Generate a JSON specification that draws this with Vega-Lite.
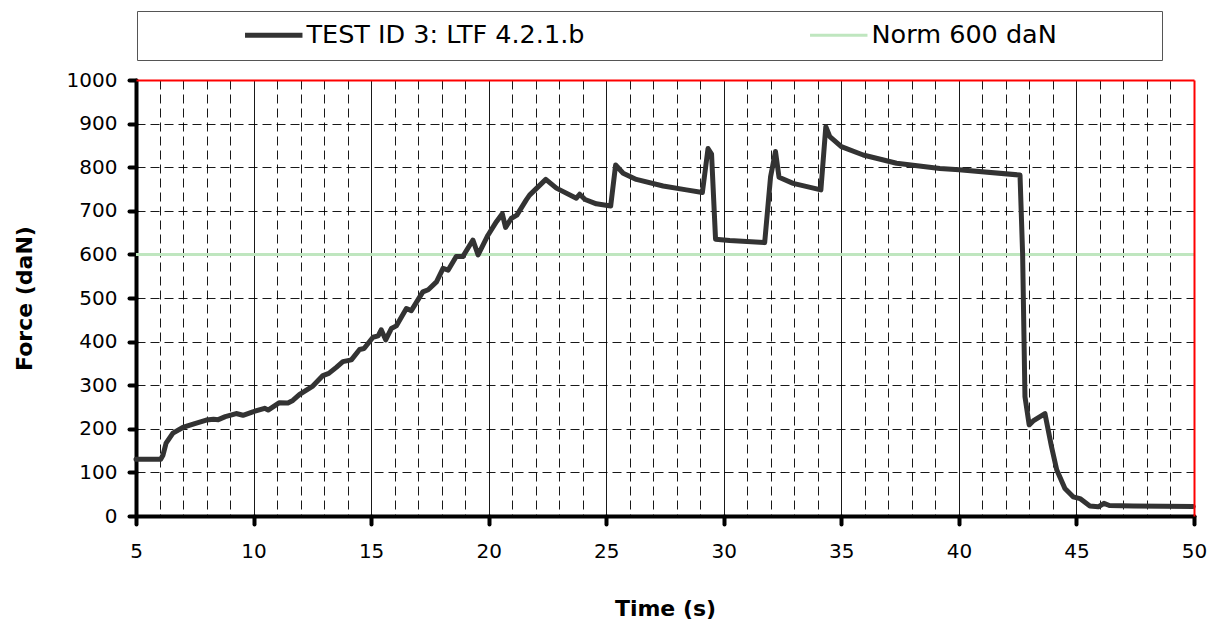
{
  "$schema": "https://vega.github.io/schema/vega-lite/v6.json",
  "width": 1058,
  "height": 436,
  "autosize": {"type": "none"},
  "padding": {"left": 136, "top": 80, "right": 18, "bottom": 103},
  "background": "#ffffff",
  "config": {"view": {"stroke": null}, "font": "DejaVu Sans"},
  "resolve": {
    "scale": {"x": "shared", "y": "shared", "color": "shared"},
    "axis": {"x": "independent", "y": "independent"}
  },
  "layer": [
    {
      "data": {"values": [
        {"t": 5, "F": 600, "series": "Norm 600 daN"},
        {"t": 50, "F": 600, "series": "Norm 600 daN"}
      ]},
      "mark": {"type": "line", "strokeWidth": 3},
      "encoding": {
        "x": {"field": "t", "type": "quantitative",
          "scale": {"domain": [5, 50], "nice": false, "zero": false},
          "axis": {"orient": "top", "domainColor": "#ff0000", "domainWidth": 2, "ticks": false, "labels": false, "grid": false, "title": null, "zindex": 1}},
        "y": {"field": "F", "type": "quantitative",
          "scale": {"domain": [0, 1000], "nice": false},
          "axis": {"orient": "right", "domainColor": "#ff0000", "domainWidth": 2, "ticks": false, "labels": false, "grid": false, "title": null, "zindex": 1}},
        "color": {"field": "series", "type": "nominal",
          "scale": {"domain": ["TEST ID 3: LTF 4.2.1.b", "Norm 600 daN"], "range": ["#333333", "#bfe6bf"]},
          "legend": {
            "orient": "none", "legendX": 1, "legendY": -69,
            "direction": "horizontal", "columns": 2, "title": null,
            "symbolType": "stroke", "symbolSize": 3300, "symbolStrokeWidth": 5,
            "symbolOffset": 113, "labelOffset": 20,
            "labelFont": "DejaVu Sans", "labelFontSize": 25.5, "labelColor": "#000000", "labelLimit": 2000,
            "columnPadding": 128, "padding": 11,
            "fillColor": "#ffffff", "strokeColor": "#555555",
            "labelExpr": "datum.value === 'Norm 600 daN' ? datum.label + '\u2800\u2800\u2800\u2800\u2800' : datum.label",
            "encode": {"symbols": {"update": {"strokeWidth": {"signal": "datum.value === 'Norm 600 daN' ? 3 : 5"}}}}
          }}
      }
    },
    {
      "data": {"values": [
        {"t": 5.0, "F": 130, "series": "TEST ID 3: LTF 4.2.1.b"},
        {"t": 6.05, "F": 130, "series": "TEST ID 3: LTF 4.2.1.b"},
        {"t": 6.15, "F": 140, "series": "TEST ID 3: LTF 4.2.1.b"},
        {"t": 6.28, "F": 167, "series": "TEST ID 3: LTF 4.2.1.b"},
        {"t": 6.57, "F": 190, "series": "TEST ID 3: LTF 4.2.1.b"},
        {"t": 6.99, "F": 203, "series": "TEST ID 3: LTF 4.2.1.b"},
        {"t": 7.5, "F": 212, "series": "TEST ID 3: LTF 4.2.1.b"},
        {"t": 7.99, "F": 220, "series": "TEST ID 3: LTF 4.2.1.b"},
        {"t": 8.3, "F": 222, "series": "TEST ID 3: LTF 4.2.1.b"},
        {"t": 8.5, "F": 221, "series": "TEST ID 3: LTF 4.2.1.b"},
        {"t": 8.8, "F": 228, "series": "TEST ID 3: LTF 4.2.1.b"},
        {"t": 9.26, "F": 235, "series": "TEST ID 3: LTF 4.2.1.b"},
        {"t": 9.55, "F": 231, "series": "TEST ID 3: LTF 4.2.1.b"},
        {"t": 9.97, "F": 239, "series": "TEST ID 3: LTF 4.2.1.b"},
        {"t": 10.47, "F": 247, "series": "TEST ID 3: LTF 4.2.1.b"},
        {"t": 10.62, "F": 243, "series": "TEST ID 3: LTF 4.2.1.b"},
        {"t": 11.1, "F": 260, "series": "TEST ID 3: LTF 4.2.1.b"},
        {"t": 11.46, "F": 259, "series": "TEST ID 3: LTF 4.2.1.b"},
        {"t": 11.67, "F": 265, "series": "TEST ID 3: LTF 4.2.1.b"},
        {"t": 11.96, "F": 279, "series": "TEST ID 3: LTF 4.2.1.b"},
        {"t": 12.52, "F": 298, "series": "TEST ID 3: LTF 4.2.1.b"},
        {"t": 12.95, "F": 322, "series": "TEST ID 3: LTF 4.2.1.b"},
        {"t": 13.2, "F": 327, "series": "TEST ID 3: LTF 4.2.1.b"},
        {"t": 13.52, "F": 341, "series": "TEST ID 3: LTF 4.2.1.b"},
        {"t": 13.8, "F": 354, "series": "TEST ID 3: LTF 4.2.1.b"},
        {"t": 14.16, "F": 358, "series": "TEST ID 3: LTF 4.2.1.b"},
        {"t": 14.51, "F": 382, "series": "TEST ID 3: LTF 4.2.1.b"},
        {"t": 14.7, "F": 384, "series": "TEST ID 3: LTF 4.2.1.b"},
        {"t": 15.08, "F": 410, "series": "TEST ID 3: LTF 4.2.1.b"},
        {"t": 15.3, "F": 413, "series": "TEST ID 3: LTF 4.2.1.b"},
        {"t": 15.43, "F": 427, "series": "TEST ID 3: LTF 4.2.1.b"},
        {"t": 15.62, "F": 404, "series": "TEST ID 3: LTF 4.2.1.b"},
        {"t": 15.86, "F": 430, "series": "TEST ID 3: LTF 4.2.1.b"},
        {"t": 16.07, "F": 436, "series": "TEST ID 3: LTF 4.2.1.b"},
        {"t": 16.5, "F": 476, "series": "TEST ID 3: LTF 4.2.1.b"},
        {"t": 16.71, "F": 471, "series": "TEST ID 3: LTF 4.2.1.b"},
        {"t": 17.2, "F": 514, "series": "TEST ID 3: LTF 4.2.1.b"},
        {"t": 17.43, "F": 519, "series": "TEST ID 3: LTF 4.2.1.b"},
        {"t": 17.78, "F": 537, "series": "TEST ID 3: LTF 4.2.1.b"},
        {"t": 18.06, "F": 568, "series": "TEST ID 3: LTF 4.2.1.b"},
        {"t": 18.28, "F": 564, "series": "TEST ID 3: LTF 4.2.1.b"},
        {"t": 18.62, "F": 595, "series": "TEST ID 3: LTF 4.2.1.b"},
        {"t": 18.9, "F": 595, "series": "TEST ID 3: LTF 4.2.1.b"},
        {"t": 19.33, "F": 633, "series": "TEST ID 3: LTF 4.2.1.b"},
        {"t": 19.55, "F": 599, "series": "TEST ID 3: LTF 4.2.1.b"},
        {"t": 19.97, "F": 644, "series": "TEST ID 3: LTF 4.2.1.b"},
        {"t": 20.33, "F": 675, "series": "TEST ID 3: LTF 4.2.1.b"},
        {"t": 20.58, "F": 693, "series": "TEST ID 3: LTF 4.2.1.b"},
        {"t": 20.72, "F": 662, "series": "TEST ID 3: LTF 4.2.1.b"},
        {"t": 20.97, "F": 683, "series": "TEST ID 3: LTF 4.2.1.b"},
        {"t": 21.2, "F": 690, "series": "TEST ID 3: LTF 4.2.1.b"},
        {"t": 21.6, "F": 725, "series": "TEST ID 3: LTF 4.2.1.b"},
        {"t": 21.74, "F": 736, "series": "TEST ID 3: LTF 4.2.1.b"},
        {"t": 22.43, "F": 772, "series": "TEST ID 3: LTF 4.2.1.b"},
        {"t": 22.88, "F": 752, "series": "TEST ID 3: LTF 4.2.1.b"},
        {"t": 23.73, "F": 729, "series": "TEST ID 3: LTF 4.2.1.b"},
        {"t": 23.87, "F": 738, "series": "TEST ID 3: LTF 4.2.1.b"},
        {"t": 24.1, "F": 726, "series": "TEST ID 3: LTF 4.2.1.b"},
        {"t": 24.58, "F": 716, "series": "TEST ID 3: LTF 4.2.1.b"},
        {"t": 25.19, "F": 711, "series": "TEST ID 3: LTF 4.2.1.b"},
        {"t": 25.4, "F": 805, "series": "TEST ID 3: LTF 4.2.1.b"},
        {"t": 25.72, "F": 786, "series": "TEST ID 3: LTF 4.2.1.b"},
        {"t": 26.28, "F": 772, "series": "TEST ID 3: LTF 4.2.1.b"},
        {"t": 27.42, "F": 757, "series": "TEST ID 3: LTF 4.2.1.b"},
        {"t": 28.41, "F": 748, "series": "TEST ID 3: LTF 4.2.1.b"},
        {"t": 29.09, "F": 742, "series": "TEST ID 3: LTF 4.2.1.b"},
        {"t": 29.33, "F": 843, "series": "TEST ID 3: LTF 4.2.1.b"},
        {"t": 29.48, "F": 830, "series": "TEST ID 3: LTF 4.2.1.b"},
        {"t": 29.65, "F": 635, "series": "TEST ID 3: LTF 4.2.1.b"},
        {"t": 30.25, "F": 632, "series": "TEST ID 3: LTF 4.2.1.b"},
        {"t": 31.74, "F": 627, "series": "TEST ID 3: LTF 4.2.1.b"},
        {"t": 31.99, "F": 778, "series": "TEST ID 3: LTF 4.2.1.b"},
        {"t": 32.2, "F": 836, "series": "TEST ID 3: LTF 4.2.1.b"},
        {"t": 32.35, "F": 777, "series": "TEST ID 3: LTF 4.2.1.b"},
        {"t": 32.95, "F": 763, "series": "TEST ID 3: LTF 4.2.1.b"},
        {"t": 34.13, "F": 748, "series": "TEST ID 3: LTF 4.2.1.b"},
        {"t": 34.34, "F": 893, "series": "TEST ID 3: LTF 4.2.1.b"},
        {"t": 34.51, "F": 870, "series": "TEST ID 3: LTF 4.2.1.b"},
        {"t": 35.0, "F": 847, "series": "TEST ID 3: LTF 4.2.1.b"},
        {"t": 35.93, "F": 828, "series": "TEST ID 3: LTF 4.2.1.b"},
        {"t": 37.35, "F": 809, "series": "TEST ID 3: LTF 4.2.1.b"},
        {"t": 39.19, "F": 797, "series": "TEST ID 3: LTF 4.2.1.b"},
        {"t": 40.01, "F": 794, "series": "TEST ID 3: LTF 4.2.1.b"},
        {"t": 42.6, "F": 782, "series": "TEST ID 3: LTF 4.2.1.b"},
        {"t": 42.71, "F": 602, "series": "TEST ID 3: LTF 4.2.1.b"},
        {"t": 42.81, "F": 274, "series": "TEST ID 3: LTF 4.2.1.b"},
        {"t": 42.99, "F": 209, "series": "TEST ID 3: LTF 4.2.1.b"},
        {"t": 43.16, "F": 218, "series": "TEST ID 3: LTF 4.2.1.b"},
        {"t": 43.66, "F": 235, "series": "TEST ID 3: LTF 4.2.1.b"},
        {"t": 43.94, "F": 159, "series": "TEST ID 3: LTF 4.2.1.b"},
        {"t": 44.16, "F": 106, "series": "TEST ID 3: LTF 4.2.1.b"},
        {"t": 44.51, "F": 63, "series": "TEST ID 3: LTF 4.2.1.b"},
        {"t": 44.86, "F": 44, "series": "TEST ID 3: LTF 4.2.1.b"},
        {"t": 45.15, "F": 40, "series": "TEST ID 3: LTF 4.2.1.b"},
        {"t": 45.57, "F": 23, "series": "TEST ID 3: LTF 4.2.1.b"},
        {"t": 45.93, "F": 21, "series": "TEST ID 3: LTF 4.2.1.b"},
        {"t": 46.17, "F": 29, "series": "TEST ID 3: LTF 4.2.1.b"},
        {"t": 46.4, "F": 24, "series": "TEST ID 3: LTF 4.2.1.b"},
        {"t": 47.42, "F": 23, "series": "TEST ID 3: LTF 4.2.1.b"},
        {"t": 49.97, "F": 22, "series": "TEST ID 3: LTF 4.2.1.b"}
      ]},
      "mark": {"type": "line", "strokeWidth": 5, "strokeJoin": "round", "strokeCap": "round"},
      "encoding": {
        "x": {"field": "t", "type": "quantitative",
          "scale": {"domain": [5, 50], "nice": false, "zero": false},
          "axis": {
            "orient": "bottom",
            "values": [5,6,7,8,9,10,11,12,13,14,15,16,17,18,19,20,21,22,23,24,25,26,27,28,29,30,31,32,33,34,35,36,37,38,39,40,41,42,43,44,45,46,47,48,49,50],
            "format": "d",
            "labelExpr": "datum.value % 5 === 0 ? datum.label : ''",
            "labelFlush": false, "labelOverlap": false,
            "labelFont": "DejaVu Sans", "labelFontSize": 20, "labelColor": "#000000", "labelPadding": 17,
            "domainColor": "#000000", "domainWidth": 4, "domainCap": "round",
            "tickColor": "#000000", "tickWidth": 4, "tickSize": 8, "tickCap": "round",
            "tickOpacity": {"condition": {"test": "datum.value % 5 === 0", "value": 1}, "value": 0},
            "grid": true, "gridColor": "#000000", "gridWidth": 1,
            "gridDash": {"condition": {"test": "datum.value % 5 === 0", "value": []}, "value": [9, 5]},
            "gridOpacity": {"condition": {"test": "datum.value === 5 || datum.value === 50", "value": 0}, "value": 0.9},
            "title": "Time (s)", "titleFont": "DejaVu Sans", "titleFontSize": 22, "titleFontWeight": "bold", "titleColor": "#000000",
            "titleX": 529, "titleY": 92, "titleBaseline": "middle", "titleAlign": "center"
          }},
        "y": {"field": "F", "type": "quantitative",
          "scale": {"domain": [0, 1000], "nice": false},
          "axis": {
            "orient": "left",
            "values": [0,100,200,300,400,500,600,700,800,900,1000],
            "format": "d",
            "labelFont": "DejaVu Sans", "labelFontSize": 20, "labelColor": "#000000", "labelPadding": 12,
            "domainColor": "#000000", "domainWidth": 4, "domainCap": "round",
            "tickColor": "#000000", "tickWidth": 4, "tickSize": 7, "tickCap": "round",
            "grid": true, "gridColor": "#000000", "gridWidth": 1, "gridDash": [9, 5],
            "gridOpacity": {"condition": {"test": "datum.value === 0 || datum.value === 1000", "value": 0}, "value": 0.9},
            "title": "Force (daN)", "titleFont": "DejaVu Sans", "titleFontSize": 22, "titleFontWeight": "bold", "titleColor": "#000000",
            "titleX": -112, "titleY": 218, "titleBaseline": "middle", "titleAlign": "center", "titleAngle": -90
          }},
        "color": {"field": "series", "type": "nominal"}
      }
    }
  ]
}
